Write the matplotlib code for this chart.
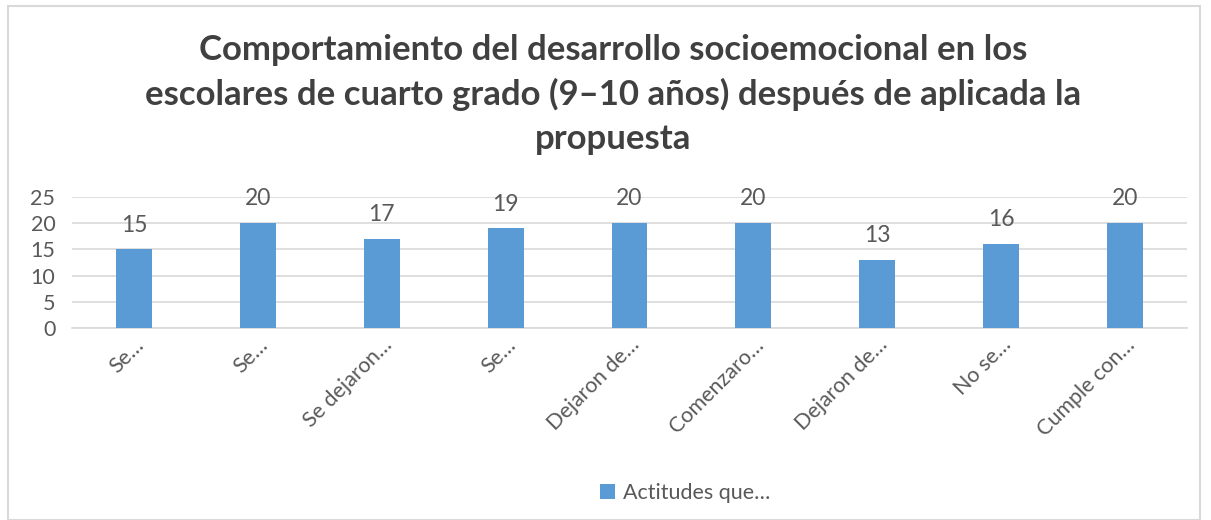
import matplotlib
matplotlib.use("Agg")
import matplotlib.pyplot as plt
from matplotlib.patches import Rectangle

categories = ["Se…", "Se…", "Se dejaron…", "Se…", "Dejaron de…",
              "Comenzaro…", "Dejaron de…", "No se…", "Cumple con…"]
values = [15, 20, 17, 19, 20, 20, 13, 16, 20]
series_name = "Actitudes que…"
yticks = [0, 5, 10, 15, 20, 25]
title = ("Comportamiento del desarrollo socioemocional en los\n"
         "escolares de cuarto grado (9–10 años) después de aplicada la\n"
         "propuesta")

plt.rcParams['font.family'] = ['Lato', 'DejaVu Sans']
txt = '#595959'
bar_color = '#5B9BD5'

fig = plt.figure(figsize=(12.11, 5.20), dpi=100)
fig.patches.append(Rectangle((8/1211, 0), (1200-8)/1211, 1-6/520,
                             transform=fig.transFigure, fill=False,
                             edgecolor='#D9D9D9', linewidth=1.5))
ax = fig.add_axes([72/1211, 1-328/520, (1187-72)/1211, (328-197)/520])
x = list(range(len(categories)))
bars = ax.bar(x, values, width=0.29, color=bar_color, zorder=3, label=series_name)
ax.set_xlim(-0.5, len(categories) - 0.5)
ax.set_ylim(0, 25)
ax.set_yticks(yticks)
ax.set_yticklabels([str(t) for t in yticks], fontsize=15.5, color=txt)
ax.yaxis.grid(True, color='#D9D9D9', linewidth=1.2, zorder=0)
ax.tick_params(axis='both', length=0, pad=5)
ax.tick_params(axis='y', pad=12)
for s in ['top', 'right', 'left']:
    ax.spines[s].set_visible(False)
ax.spines['bottom'].set_color('#D9D9D9')
ax.spines['bottom'].set_linewidth(1.2)
ax.set_xticks(x)
ax.set_xticklabels(categories, rotation=45, ha='right', rotation_mode='anchor',
                   fontsize=15.5, color=txt)
for xi, v in zip(x, values):
    ax.annotate(str(v), (xi, v), xytext=(0, 10), textcoords='offset points',
                ha='center', va='bottom', fontsize=16.5, color=txt)

fig.text(0.506, 1-34/520, title, ha='center', va='top', fontsize=25,
         fontweight='bold', color='#404040', linespacing=1.45)

leg = fig.legend(handles=[bars], labels=[series_name], loc='center',
                 bbox_to_anchor=(685/1211, 1-493/520), frameon=False,
                 fontsize=15.5, handlelength=0.7, handleheight=0.7,
                 handletextpad=0.4)
for t in leg.get_texts():
    t.set_color(txt)

fig.savefig("out.png", dpi=100)
